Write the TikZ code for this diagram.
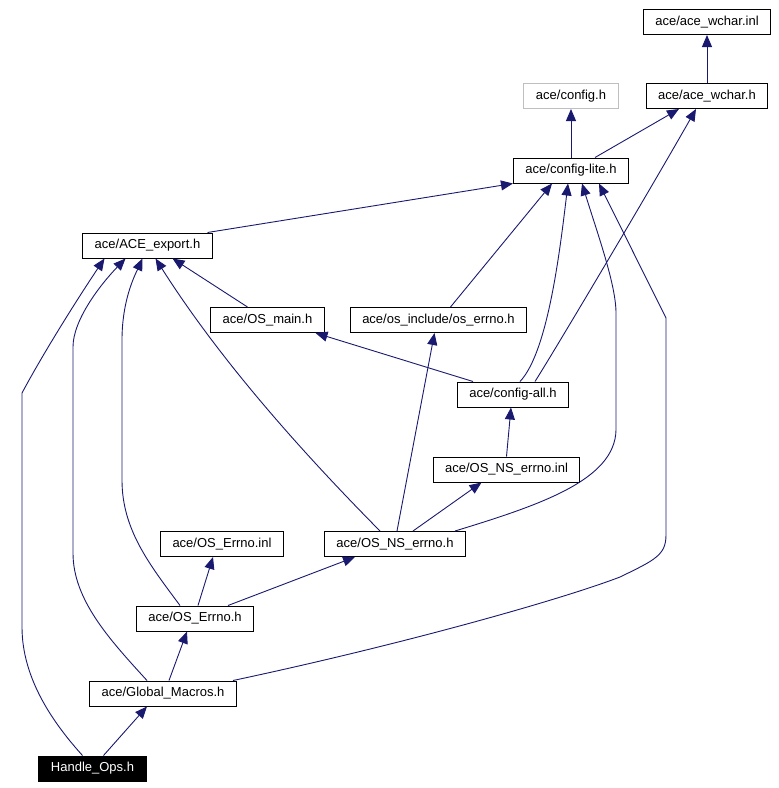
\documentclass[tikz,border=0pt]{standalone}
\usepackage{fontspec}
\setmainfont{Liberation Sans}
\usetikzlibrary{arrows.meta}
\definecolor{edgeblue}{RGB}{25,25,112}
\definecolor{ghost}{RGB}{191,191,191}

\begin{document}
\begin{tikzpicture}[x=1pt, y=-1pt,%
every node/.style={rectangle, draw, line width=1pt, inner xsep=12pt,
minimum height=25pt, font=\fontsize{13}{15}\selectfont},
dep/.style={-{Triangle[length=12pt,width=10pt]}, draw=edgeblue, line width=0.9pt}]
\useasboundingbox (0,0) rectangle (779,788);
\node (inl) at (707,22) {ace/ace\_wchar.inl};
\node (wcharh) at (707,96) {ace/ace\_wchar.h};
\node (config) at (571,96) [draw=ghost] {ace/config.h};
\node (lite) at (571,170.5) {ace/config-lite.h};
\node (export) at (147.5,245.5) {ace/ACE\_export.h};
\node (osmain) at (267.5,320) {ace/OS\_main.h};
\node (oserrno) at (438.5,320) {ace/os\_include/os\_errno.h};
\node (cfgall) at (513,394.5) {ace/config-all.h};
\node (nsinl) at (506.5,469.5) {ace/OS\_NS\_errno.inl};
\node (nsh) at (395,544) {ace/OS\_NS\_errno.h};
\node (errinl) at (222,544) {ace/OS\_Errno.inl};
\node (errh) at (195,618.5) {ace/OS\_Errno.h};
\node (gm) at (163,693.5) {ace/Global\_Macros.h};
\node (ho) at (92.5,768.5) [fill=black, text=white] {Handle\_Ops.h};
\draw[dep] (wcharh.north) -- (inl.south);
\draw[dep] (lite.north) -- (config.south);
\draw[dep] ([xshift=24pt]lite.north) -- ([xshift=-28pt]wcharh.south);
\draw[dep] ([xshift=22pt]cfgall.north) .. controls (555,350) and (650,190) .. ([xshift=-11pt]wcharh.south);
\draw[dep] ([xshift=60pt]export.north) -- (lite.south west);
\draw[dep] ([xshift=-20pt]osmain.north) -- ([xshift=25pt]export.south);
\draw[dep] ([xshift=12pt]oserrno.north) -- ([xshift=-19pt]lite.south);
\draw[dep] ([xshift=7pt]cfgall.north) .. controls (548,352) and (560,250) .. ([xshift=-3pt]lite.south);
\draw[dep] ([xshift=60pt]nsh.north) .. controls (540,505) and (615,480) .. (616,430)
  -- (616,313) .. controls (616,285) and (598,235) .. ([xshift=11pt]lite.south);
\draw[dep] ([xshift=70pt]gm.north) .. controls (400,645) and (560,600) .. (620,577)
  .. controls (655,560) and (666,555) .. (666,535) -- (666,318) -- ([xshift=28pt]lite.south);
\draw[dep] ([xshift=-40pt]cfgall.north) -- ([xshift=48pt]osmain.south);
\draw[dep] ([xshift=2pt]nsh.north) -- ([xshift=-4pt]oserrno.south);
\draw[dep] (nsinl.north) -- ([xshift=-2pt]cfgall.south);
\draw[dep] ([xshift=18pt]nsh.north) -- ([xshift=-25pt]nsinl.south);
\draw[dep] ([xshift=-15pt]nsh.north) .. controls (300,450) and (220,360) .. ([xshift=8pt]export.south);
\draw[dep] ([xshift=3pt]errh.north) -- ([xshift=-9pt]errinl.south);
\draw[dep] ([xshift=33pt]errh.north) -- ([xshift=-40pt]nsh.south);
\draw[dep] ([xshift=-15pt]errh.north) .. controls (150,565) and (122,530) .. (122,480)
  -- (122,340) .. controls (122,300) and (135,275) .. ([xshift=-5pt]export.south);
\draw[dep] ([xshift=6pt]gm.north) -- ([xshift=-8pt]errh.south);
\draw[dep] ([xshift=-16pt]gm.north) .. controls (110,640) and (73,600) .. (73,553)
  -- (73,347) .. controls (73,320) and (100,285) .. ([xshift=-22pt]export.south);
\draw[dep] ([xshift=11pt]ho.north) -- ([xshift=-16pt]gm.south);
\draw[dep] ([xshift=-10pt]ho.north) .. controls (55,725) and (22,680) .. (22,627)
  -- (22,393) .. controls (45,350) and (80,295) .. ([xshift=-43pt]export.south);
\end{tikzpicture}
\end{document}
